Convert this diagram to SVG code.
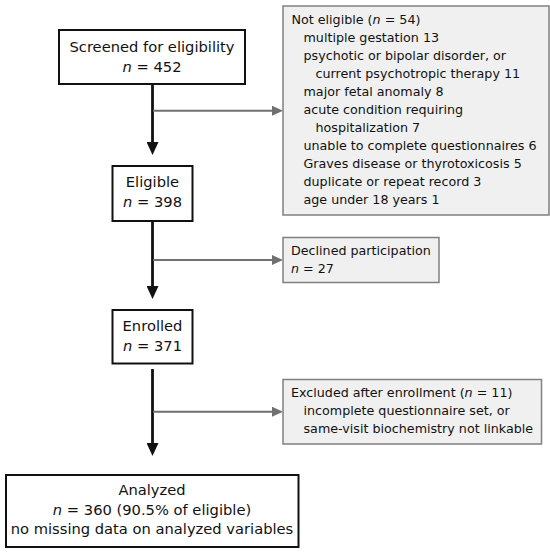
<svg xmlns="http://www.w3.org/2000/svg" width="550" height="552" viewBox="0 0 550 552">
<style>
.main{fill:#fff;stroke:#111;stroke-width:2}
.side{fill:#f0f0f0;stroke:#808080;stroke-width:1.5}
.t{font-family:"DejaVu Sans",Verdana,sans-serif;fill:#111}
.big{font-size:14.7px;text-anchor:middle}
.sm{font-size:12.7px}
.blk{stroke:#111;stroke-width:2.8;fill:none}
.gry{stroke:#707070;stroke-width:2;fill:none}
</style>
<defs>
<marker id="ab" markerUnits="userSpaceOnUse" markerWidth="13" markerHeight="12" refX="6" refY="6" orient="auto">
<path d="M0,0 L13,6 L0,12 z" fill="#111"/>
</marker>
<marker id="ag" markerUnits="userSpaceOnUse" markerWidth="11" markerHeight="10" refX="5" refY="5" orient="auto">
<path d="M0,0 L11,5 L0,10 z" fill="#707070"/>
</marker>
</defs>
<rect width="550" height="552" fill="#fff"/>
<g id="connectors">
<path class="blk" d="M152.5,84 V148" marker-end="url(#ab)"/>
<path class="blk" d="M152.5,221 V292" marker-end="url(#ab)"/>
<path class="blk" d="M152.5,369 V449" marker-end="url(#ab)"/>
<path class="gry" d="M153,110.7 H277" marker-end="url(#ag)"/>
<path class="gry" d="M153,260 H277" marker-end="url(#ag)"/>
<path class="gry" d="M153,411.7 H277" marker-end="url(#ag)"/>
</g>
<g id="screened">
<rect class="main" x="59" y="30" width="186" height="54"/>
<text class="t big" x="152" y="51.7">Screened for eligibility</text>
<text class="t big" x="152" y="71.7"><tspan font-style="italic">n</tspan> = 452</text>
</g>
<g id="not-eligible">
<rect class="side" x="283" y="6" width="266" height="209"/>
<text class="t sm" x="291.5" y="24">Not eligible (<tspan font-style="italic">n</tspan> = 54)</text>
<text class="t sm" x="303.5" y="42">multiple gestation 13</text>
<text class="t sm" x="303.5" y="60">psychotic or bipolar disorder, or</text>
<text class="t sm" x="315.5" y="78">current psychotropic therapy 11</text>
<text class="t sm" x="303.5" y="96">major fetal anomaly 8</text>
<text class="t sm" x="303.5" y="114">acute condition requiring</text>
<text class="t sm" x="315.5" y="132">hospitalization 7</text>
<text class="t sm" x="303.5" y="150">unable to complete questionnaires 6</text>
<text class="t sm" x="303.5" y="168">Graves disease or thyrotoxicosis 5</text>
<text class="t sm" x="303.5" y="186">duplicate or repeat record 3</text>
<text class="t sm" x="303.5" y="204">age under 18 years 1</text>
</g>
<g id="eligible">
<rect class="main" x="112.5" y="166" width="80" height="55"/>
<text class="t big" x="152.5" y="187.3">Eligible</text>
<text class="t big" x="152.5" y="207.3"><tspan font-style="italic">n</tspan> = 398</text>
</g>
<g id="declined">
<rect class="side" x="283" y="237.5" width="156" height="45"/>
<text class="t sm" x="291" y="255">Declined participation</text>
<text class="t sm" x="291" y="272.7"><tspan font-style="italic">n</tspan> = 27</text>
</g>
<g id="enrolled">
<rect class="main" x="112.5" y="310" width="80" height="53.5"/>
<text class="t big" x="152.5" y="331">Enrolled</text>
<text class="t big" x="152.5" y="351"><tspan font-style="italic">n</tspan> = 371</text>
</g>
<g id="excluded">
<rect class="side" x="283" y="379.5" width="258.5" height="64.5"/>
<text class="t sm" x="291" y="396.7">Excluded after enrollment (<tspan font-style="italic">n</tspan> = 11)</text>
<text class="t sm" x="303.5" y="414.5">incomplete questionnaire set, or</text>
<text class="t sm" x="303.5" y="432.5">same-visit biochemistry not linkable</text>
</g>
<g id="analyzed">
<rect class="main" x="6" y="475" width="292.5" height="72"/>
<text class="t big" x="152" y="495">Analyzed</text>
<text class="t big" x="152" y="514.5"><tspan font-style="italic">n</tspan> = 360 (90.5% of eligible)</text>
<text class="t big" x="152" y="534">no missing data on analyzed variables</text>
</g>
</svg>
